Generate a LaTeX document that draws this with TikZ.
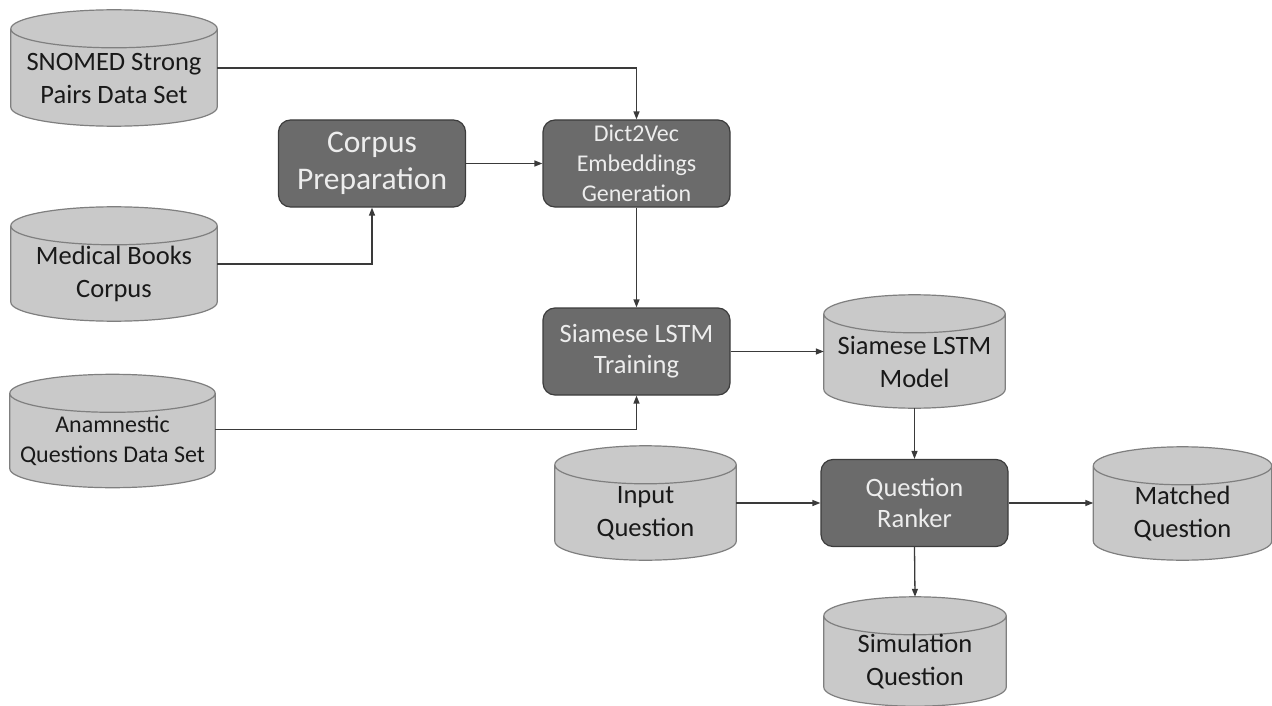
\documentclass[tikz,border=0pt]{standalone}
\usepackage{fontspec}
\setmainfont{Carlito}
\usepackage{tikz}
\usetikzlibrary{arrows.meta,backgrounds,calc,positioning}
\definecolor{storefill}{HTML}{C9C9C9}
\definecolor{storeline}{HTML}{7F7F7F}
\definecolor{stepfill}{HTML}{6B6B6B}
\definecolor{stepline}{HTML}{3C3C3C}
\definecolor{linegray}{HTML}{3A3A3A}
\tikzset
{
    datastore/.style = {rectangle, align=center, text=black!90, minimum height=114pt, minimum width=206pt, inner sep=0pt, font=\fontsize{26.5}{33}\selectfont},
    storeshape/.style = {draw=storeline, line width=1.2pt, fill=storefill},
    stepbox/.style   = {rectangle, rounded corners=12pt, draw=stepline, line width=1.2pt, fill=stepfill, align=center, text=white!93!black, minimum width=187pt, minimum height=87pt, inner sep=0pt, font=\fontsize{26.5}{31}\selectfont},
    flowline/.style  = {->, draw=linegray, line width=1.3pt}
}

\begin{document}
\begin{tikzpicture}[x=1pt, y=-1pt, >={Triangle[length=8pt,width=6pt]}]
    \useasboundingbox (0,0) rectangle (1272,706);
    % data sets (text sits 10pt below the middle of each drum)
    \node [datastore, minimum height=116pt] (snomed) at (114,78) {SNOMED Strong\\Pairs Data Set};
    \node [datastore] (books) at (114,274) {Medical Books\\Corpus};
    \node [datastore, minimum width=205pt, minimum height=113pt, font=\fontsize{24}{30}\selectfont] (anamnestic) at (112.5,441) {Anamnestic\\Questions Data Set};
    % processing steps
    \node [stepbox, font=\fontsize{31.5}{37}\selectfont] (corpus) at (372,163.5) {Corpus\\Preparation};
    \node [stepbox, font=\fontsize{24}{30}\selectfont] (dict) at (636.5,163.5) {Dict2Vec\\Embeddings\\Generation};
    \node [stepbox] (training) at (636.5,351.5) {Siamese LSTM\\Training};
    \node [datastore, minimum width=181pt, minimum height=113pt] (model) at (914.5,361.5) {Siamese LSTM\\Model};
    \node [stepbox] (ranker) at (914.5,503) {Question\\Ranker};
    \node [datastore, minimum width=181pt] (input) at (645.5,513) {Input\\Question};
    \node [datastore, minimum width=178pt, minimum height=113pt] (matched) at (1182.5,513.5) {Matched\\Question};
    \node [datastore, minimum width=182pt, minimum height=109pt] (simulation) at (915,661.5) {Simulation\\Question};

    % drums behind the data set texts
    \begin{pgfonlayer}{background}
        \foreach \store in {snomed,books,anamnestic,model,input,matched,simulation}
        {
            \draw [storeshape] let \p1 = ([yshift=10pt]\store.north west), \p2 = ([yshift=10pt]\store.south east) in
                (\x1,\y1-19pt) -- (\x1,\y2+19pt)
                arc [start angle=180, end angle=360, x radius={0.5*(\x2-\x1)}, y radius=19pt]
                -- (\x2,\y1-19pt)
                arc [start angle=0, end angle=180, x radius={0.5*(\x2-\x1)}, y radius=19pt] -- cycle
                (\x1,\y1-19pt) arc [start angle=180, end angle=360, x radius={0.5*(\x2-\x1)}, y radius=19pt];
        }
    \end{pgfonlayer}

    \draw [flowline] ([yshift=10pt]snomed.east) -| (dict.north);
    \draw [flowline] ([yshift=10pt]books.east) -| (corpus.south);
    \draw [flowline] (corpus) -- (dict);
    \draw [flowline] (dict) -- (training);
    \draw [flowline] ([yshift=11.5pt]anamnestic.east) -| (training.south);
    \draw [flowline] (training.east) -- (training.east -| model.west);
    \draw [flowline] ([yshift=10pt]model.south) -- (ranker.north);
    \draw [flowline] (ranker.west -| input.east) -- (ranker.west);
    \draw [flowline] (ranker.east) -- (ranker.east -| matched.west);
    \draw [flowline] (ranker.south) -- ([yshift=10pt]simulation.north);
\end{tikzpicture}
\end{document}
